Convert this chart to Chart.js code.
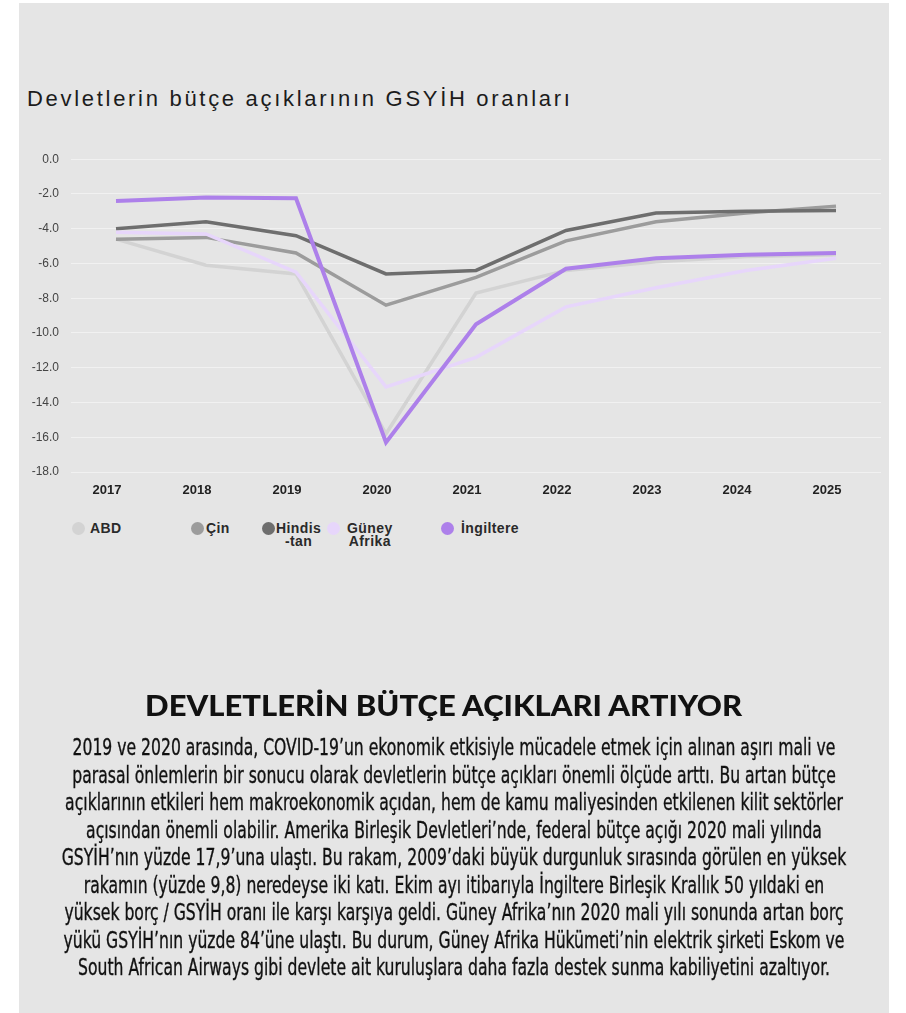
<!DOCTYPE html>
<html>
<head>
<meta charset="utf-8">
<script src="https://cdn.jsdelivr.net/npm/chart.js@4.4.1/dist/chart.umd.min.js"></script>
<style>
  html, body { margin:0; padding:0; background:#ffffff; width:906px; height:1013px; overflow:hidden; }
  #panel { position:absolute; left:19px; top:3px; width:870px; height:1010px; background:#e5e5e5; }
  #title { position:absolute; left:27px; top:88px; font-family:"Liberation Sans", Arial, sans-serif; font-size:22px; line-height:22px; letter-spacing:2.7px; color:#1c1c1c; white-space:nowrap; }
  #chartBox { position:absolute; left:19px; top:140px; width:870px; height:362px; }
  #legend { position:absolute; left:0; top:0; width:906px; height:0; }
  .lg-dot { position:absolute; width:13px; height:13px; border-radius:50%; }
  .lg-txt { position:absolute; font-family:"Liberation Sans", Arial, sans-serif; font-weight:bold; font-size:14px; line-height:13px; color:#2a2a2a; white-space:pre-line; text-align:center; letter-spacing:0.4px; }
  #heading { position:absolute; left:-556px; width:2000px; top:688px; text-align:center; font-family:Lato, "Open Sans", sans-serif; font-weight:900; font-size:28px; line-height:34px; color:#111; white-space:nowrap; }
  #heading span { display:inline-block; transform-origin:center; }
  #clip { position:absolute; left:0; top:0; width:906px; height:1013px; overflow:hidden; }
  #para { position:absolute; left:-546px; width:2000px; top:734px; text-align:center; font-family:"Liberation Sans Narrow", "DejaVu Sans Condensed", "Liberation Sans", sans-serif; font-size:23.5px; line-height:27.5px; color:#111; -webkit-text-stroke:0.35px #111; transform-origin:1000px 0; }
  #para div { white-space:nowrap; width:2000px; text-align:center; }
  #para span { display:inline-block; }
</style>
</head>
<body>
<div id="panel"></div>
<div id="title">Devletlerin bütçe açıklarının GSYİH oranları</div>
<div id="chartBox"><canvas id="c"></canvas></div>
<div id="legend"></div>
<div id="clip">
  <div id="heading"><span id="headSpan">DEVLETLERİN BÜTÇE AÇIKLARI ARTIYOR</span></div>
  <div id="para"></div>
</div>
<script>
// ---- data ----
const years = ['2017','2018','2019','2020','2021','2022','2023','2024','2025'];
const seriesNames = ['ABD','Çin','Hindis\n-tan','Güney\nAfrika','İngiltere'];
const abd    = [-4.6, -6.1, -6.6, -15.8, -7.7, -6.4, -5.9, -5.6, -5.5];
const cin    = [-4.6, -4.5, -5.4, -8.4, -6.8, -4.7, -3.6, -3.1, -2.7];
const hind   = [-4.0, -3.6, -4.4, -6.6, -6.4, -4.1, -3.1, -3.0, -2.95];
const guney  = [-4.2, -4.3, -6.5, -13.1, -11.4, -8.5, -7.4, -6.4, -5.7];
const ingiltere = [-2.4, -2.2, -2.25, -16.3, -9.5, -6.3, -5.7, -5.5, -5.4];
const yTicks = [0, -2, -4, -6, -8, -10, -12, -14, -16, -18];
const paragraphLines = [
  "2019 ve 2020 arasında, COVID-19’un ekonomik etkisiyle mücadele etmek için alınan aşırı mali ve",
  "parasal önlemlerin bir sonucu olarak devletlerin bütçe açıkları önemli ölçüde arttı. Bu artan bütçe",
  "açıklarının etkileri hem makroekonomik açıdan, hem de kamu maliyesinden etkilenen kilit sektörler",
  "açısından önemli olabilir. Amerika Birleşik Devletleri’nde, federal bütçe açığı 2020 mali yılında",
  "GSYİH’nın yüzde 17,9’una ulaştı. Bu rakam, 2009’daki büyük durgunluk sırasında görülen en yüksek",
  "rakamın (yüzde 9,8) neredeyse iki katı. Ekim ayı itibarıyla İngiltere Birleşik Krallık 50 yıldaki en",
  "yüksek borç / GSYİH oranı ile karşı karşıya geldi. Güney Afrika’nın 2020 mali yılı sonunda artan borç",
  "yükü GSYİH’nın yüzde 84’üne ulaştı. Bu durum, Güney Afrika Hükümeti’nin elektrik şirketi Eskom ve",
  "South African Airways gibi devlete ait kuruluşlara daha fazla destek sunma kabiliyetini azaltıyor."
];

// ---- styles ----
const seriesData = [abd, cin, hind, guney, ingiltere];
const colors = ['#d3d3d3', '#9c9c9c', '#6e6e6e', '#e7d6fb', '#ad80ea'];
const widths = [3.5, 3.5, 3.5, 3.5, 4];
const drawOrder = [5, 4, 3, 2, 1];
const legendDotX = [78, 197, 268, 333, 447];
const legendTxtX = [90, 206, 276, 347, 461];

const datasets = seriesData.map((d, i) => ({
  label: seriesNames[i].replace('\n', ''),
  data: d,
  borderColor: colors[i],
  backgroundColor: colors[i],
  borderWidth: widths[i],
  pointRadius: 0,
  pointHoverRadius: 0,
  tension: 0,
  fill: false,
  order: drawOrder[i],
  borderJoinStyle: 'miter',
  borderCapStyle: 'butt'
}));

new Chart(document.getElementById('c'), {
  type: 'line',
  data: { labels: years, datasets },
  options: {
    responsive: true,
    maintainAspectRatio: false,
    animation: false,
    layout: { padding: { top: 17, right: 8, left: 0, bottom: 0 } },
    plugins: { legend: { display: false }, tooltip: { enabled: false }, title: { display: false } },
    scales: {
      x: {
        offset: true,
        grid: { display: false, drawTicks: false },
        border: { display: false },
        ticks: { color: '#222', font: { family: 'Liberation Sans, Arial, sans-serif', weight: 'bold', size: 13 }, padding: 11, labelOffset: -9, maxRotation: 0 },
        afterFit: (s) => { s.height = 30; }
      },
      y: {
        min: -18, max: 0,
        afterBuildTicks: (s) => { s.ticks = yTicks.map(v => ({ value: v })); },
        grid: { color: 'rgba(255,255,255,0.45)', lineWidth: 1, drawTicks: false },
        border: { display: false },
        ticks: { color: '#444', font: { family: 'Liberation Sans, Arial, sans-serif', size: 12 }, padding: 12, callback: (v) => Number(v).toFixed(1) },
        afterFit: (s) => { s.width = 52; }
      }
    }
  }
});

// ---- legend (HTML) ----
const lg = document.getElementById('legend');
seriesNames.forEach((n, i) => {
  const dot = document.createElement('div');
  dot.className = 'lg-dot';
  dot.style.background = colors[i];
  dot.style.left = (legendDotX[i] - 6.5) + 'px';
  dot.style.top = (528 - 6.5) + 'px';
  lg.appendChild(dot);
  const t = document.createElement('div');
  t.className = 'lg-txt';
  t.textContent = n;
  t.style.left = legendTxtX[i] + 'px';
  t.style.top = (528 - 6) + 'px';
  lg.appendChild(t);
});

// ---- paragraph ----
const para = document.getElementById('para');
paragraphLines.forEach(l => {
  const d = document.createElement('div');
  const s = document.createElement('span');
  s.textContent = l;
  d.appendChild(s);
  para.appendChild(d);
});
const firstW = para.querySelector('span').getBoundingClientRect().width;
para.style.transform = 'scaleX(' + (763 / firstW) + ')';
const hs = document.getElementById('headSpan');
const hw = hs.getBoundingClientRect().width;
hs.style.transform = 'scaleX(' + (597 / hw) + ')';
</script>
</body>
</html>
